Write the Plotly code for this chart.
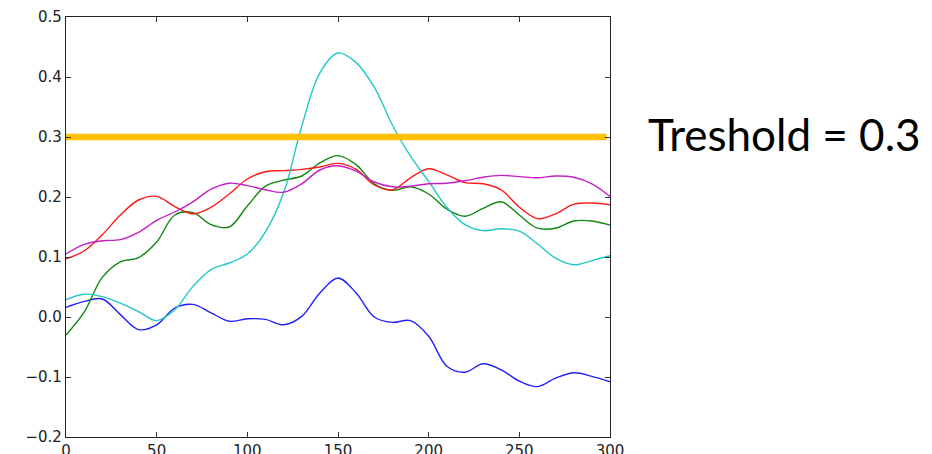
import plotly.graph_objects as go

# Sample positions shared by all five signals
x_vals = list(range(0, 301, 10))

blue_vals = [0.016, 0.026, 0.030, 0.004, -0.021, -0.013, 0.015, 0.021, 0.007, -0.007,
             -0.003, -0.004, -0.013, 0.001, 0.040, 0.065, 0.040, 0.000, -0.009, -0.006,
             -0.032, -0.082, -0.092, -0.078, -0.088, -0.107, -0.116, -0.102, -0.093, -0.099,
             -0.108]

green_vals = [-0.030, 0.008, 0.066, 0.092, 0.099, 0.125, 0.170, 0.174, 0.154, 0.150,
              0.185, 0.218, 0.228, 0.235, 0.257, 0.269, 0.254, 0.222, 0.211, 0.217,
              0.205, 0.180, 0.168, 0.181, 0.192, 0.170, 0.148, 0.148, 0.160, 0.160,
              0.153]

red_vals = [0.097, 0.110, 0.137, 0.170, 0.195, 0.201, 0.184, 0.172, 0.183, 0.205,
            0.230, 0.242, 0.244, 0.246, 0.250, 0.256, 0.246, 0.220, 0.212, 0.232,
            0.247, 0.237, 0.224, 0.222, 0.212, 0.183, 0.164, 0.172, 0.188, 0.190,
            0.187]

cyan_vals = [0.029, 0.038, 0.034, 0.023, 0.009, -0.006, 0.012, 0.051, 0.079, 0.090,
             0.105, 0.142, 0.207, 0.318, 0.407, 0.440, 0.424, 0.383, 0.320, 0.268,
             0.226, 0.183, 0.154, 0.144, 0.147, 0.143, 0.122, 0.098, 0.087, 0.094,
             0.102]

magenta_vals = [0.105, 0.121, 0.127, 0.129, 0.141, 0.161, 0.175, 0.192, 0.213, 0.223,
                0.219, 0.212, 0.208, 0.222, 0.245, 0.252, 0.243, 0.225, 0.217, 0.218,
                0.222, 0.223, 0.227, 0.233, 0.236, 0.234, 0.232, 0.235, 0.233, 0.222,
                0.201]

THRESHOLD = 0.3
threshold_x = [0, 298]

x_ticks = [0, 50, 100, 150, 200, 250, 300]
y_ticks = [-0.2, -0.1, 0.0, 0.1, 0.2, 0.3, 0.4, 0.5]

series = [
    (blue_vals, "#2020ff"),
    (green_vals, "#118811"),
    (red_vals, "#ff1a1a"),
    (cyan_vals, "#22c8c8"),
    (magenta_vals, "#c51fc5"),
]

fig = go.Figure()
for vals, color in series:
    fig.add_trace(go.Scatter(
        x=x_vals, y=vals, mode="lines",
        line=dict(color=color, width=1.4, shape="spline", smoothing=1.0),
        hoverinfo="skip", showlegend=False,
    ))

# Threshold marker
fig.add_trace(go.Scatter(
    x=threshold_x, y=[THRESHOLD] * len(threshold_x), mode="lines",
    line=dict(color="#FFC000", width=6.5),
    hoverinfo="skip", showlegend=False,
))

fig.add_annotation(
    text=f"Treshold = {THRESHOLD}",
    xref="paper", yref="y",
    x=(646 - 66) / (610 - 66), y=THRESHOLD, yshift=3,
    xanchor="left", yanchor="middle",
    showarrow=False,
    font=dict(family="Lato", size=44, color="#000000"),
)

axis_common = dict(
    showgrid=False, zeroline=False, automargin=False,
    showline=True, linecolor="#222222", linewidth=1.2, mirror="ticks",
    ticks="inside", ticklen=5, tickwidth=1, tickcolor="#333333",
    tickfont=dict(family="DejaVu Sans", size=15, color="#222222"),
)

fig.update_layout(
    width=932, height=454,
    margin=dict(l=66, r=322, t=17, b=17),
    paper_bgcolor="white", plot_bgcolor="white",
    xaxis=dict(range=[0, 300], tickvals=x_ticks, **axis_common),
    yaxis=dict(range=[-0.2, 0.5], tickvals=y_ticks, tickformat=".1f", **axis_common),
    hovermode=False,
)

fig.write_html("out.html", config={"displayModeBar": False})
